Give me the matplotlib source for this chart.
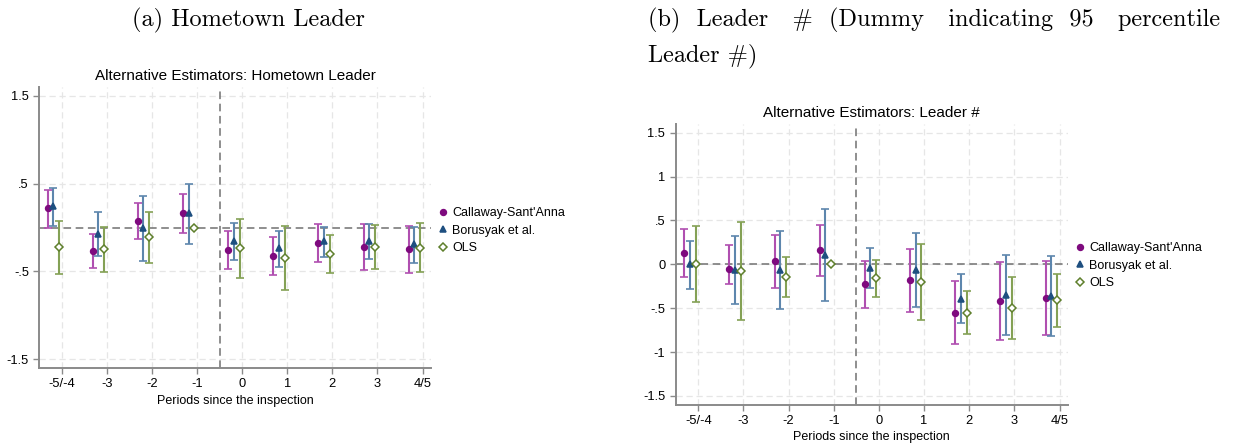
import matplotlib
matplotlib.use("Agg")
import matplotlib.pyplot as plt
import numpy as np

# ---------------- data ----------------
tick_labels = ["-5/-4", "-3", "-2", "-1", "0", "1", "2", "3", "4/5"]
series_names = ["Callaway-Sant'Anna", "Borusyak et al.", "OLS"]

# Panel (a): Hometown Leader
a_cs_est = [0.218, -0.267, 0.071, 0.162, -0.256, -0.327, -0.177, -0.222, -0.248]
a_cs_lo  = [0.000, -0.462, -0.135, -0.060, -0.470, -0.541, -0.391, -0.481, -0.519]
a_cs_hi  = [0.429, -0.071, 0.274, 0.387, -0.045, -0.113, 0.045, 0.038, 0.019]
a_bjs_est = [0.241, -0.071, -0.008, 0.162, -0.150, -0.237, -0.154, -0.154, -0.192]
a_bjs_lo  = [0.015, -0.323, -0.376, -0.184, -0.365, -0.451, -0.338, -0.357, -0.402]
a_bjs_hi  = [0.447, 0.177, 0.357, 0.496, 0.053, -0.038, 0.011, 0.038, 0.008]
a_ols_est = [-0.226, -0.248, -0.113, 0.000, -0.237, -0.350, -0.305, -0.218, -0.229]
a_ols_lo  = [-0.530, -0.508, -0.402, np.nan, -0.575, -0.710, -0.523, -0.470, -0.508]
a_ols_hi  = [0.075, 0.008, 0.180, np.nan, 0.098, 0.015, -0.086, 0.030, 0.056]

# Panel (b): Leader # (95 percentile dummy)
b_cs_est = [0.129, -0.053, 0.034, 0.159, -0.227, -0.178, -0.549, -0.418, -0.383]
b_cs_lo  = [-0.144, -0.223, -0.273, -0.136, -0.496, -0.538, -0.908, -0.868, -0.803]
b_cs_hi  = [0.399, 0.224, 0.337, 0.447, 0.034, 0.180, -0.193, 0.030, 0.036]
b_bjs_est = [0.000, -0.060, -0.064, 0.110, -0.038, -0.064, -0.391, -0.346, -0.357]
b_bjs_lo  = [-0.277, -0.447, -0.511, -0.413, -0.269, -0.489, -0.663, -0.802, -0.812]
b_bjs_hi  = [0.270, 0.322, 0.379, 0.629, 0.189, 0.362, -0.115, 0.104, 0.098]
b_ols_est = [0.006, -0.076, -0.148, 0.000, -0.159, -0.203, -0.549, -0.498, -0.410]
b_ols_lo  = [-0.424, -0.633, -0.371, np.nan, -0.371, -0.637, -0.795, -0.855, -0.709]
b_ols_hi  = [0.440, 0.481, 0.087, np.nan, 0.049, 0.231, -0.303, -0.142, -0.113]

a_yticks = [1.5, 0.5, -0.5, -1.5]
a_yticklabels = ["1.5", ".5", "-.5", "-1.5"]
b_yticks = [1.5, 1, 0.5, 0, -0.5, -1, -1.5]
b_yticklabels = ["1.5", "1", ".5", "0", "-.5", "-1", "-1.5"]

# ---------------- style ----------------
SANS = ["Liberation Sans", "DejaVu Sans"]
SERIF = ["cmr10", "DejaVu Serif"]
col_cs = "#7e0a7e"
col_cs_ci = "#b04fb0"
col_bjs = "#1e4f80"
col_bjs_ci = "#5d86ad"
col_ols = "#5e7f2c"
col_ols_ci = "#84a155"
offsets = [-0.31, -0.19, -0.06]
axis_gray = "#8a8a8a"

fig = plt.figure(figsize=(12.42, 4.45), dpi=100)


def draw_panel(ax, data, yticks, yticklabels, title, legend_anchor):
    x = np.arange(len(tick_labels))
    specs = [
        (data[0], col_cs, col_cs_ci, "o", col_cs, 4.2),
        (data[1], col_bjs, col_bjs_ci, "^", col_bjs, 4.2),
        (data[2], col_ols, col_ols_ci, "D", "white", 3.8),
    ]
    handles = []
    for i, ((est, lo, hi), c, cci, mk, fc, ms) in enumerate(specs):
        est = np.asarray(est, float)
        lo = np.asarray(lo, float)
        hi = np.asarray(hi, float)
        xs = x + offsets[i]
        ok = ~np.isnan(lo)
        ax.errorbar(xs[ok], est[ok], yerr=[est[ok] - lo[ok], hi[ok] - est[ok]],
                    fmt="none", ecolor=cci, elinewidth=1.5, capsize=2.8,
                    capthick=1.2, zorder=3)
        h, = ax.plot(xs, est, linestyle="none", marker=mk, markersize=ms,
                     markerfacecolor=fc, markeredgecolor=c, markeredgewidth=1.1,
                     zorder=4, label=series_names[i])
        handles.append(h)

    ax.axhline(0, color="#707070", linestyle=(0, (5, 3)), linewidth=1.1, zorder=2)
    ax.axvline(3.5, color="#707070", linestyle=(0, (5, 3)), linewidth=1.1, zorder=2)

    ax.set_xlim(-0.5, 8.18)
    ax.set_ylim(-1.6, 1.6)
    ax.set_xticks(x)
    ax.set_xticklabels(tick_labels, fontfamily=SANS, fontsize=9.3)
    ax.set_yticks(yticks)
    ax.set_yticklabels(yticklabels, fontfamily=SANS, fontsize=9.3)
    ax.grid(True, color="#e6e6e6", linestyle=(0, (5, 3)), linewidth=0.9, zorder=0)
    ax.set_axisbelow(True)
    for s in ["top", "right"]:
        ax.spines[s].set_visible(False)
    for s in ["left", "bottom"]:
        ax.spines[s].set_color(axis_gray)
        ax.spines[s].set_linewidth(1.4)
    ax.tick_params(axis="both", colors=axis_gray, labelcolor="black",
                   length=4, width=1.0, direction="out")
    ax.set_xlabel("Periods since the inspection", fontfamily=SANS, fontsize=9,
                  labelpad=3)
    ax.set_title(title, fontfamily=SANS, fontsize=11, pad=5)
    ax.legend(handles=handles, loc="center left", bbox_to_anchor=legend_anchor,
              frameon=False, prop={"family": SANS, "size": 9},
              handlelength=0.6, handletextpad=0.45, labelspacing=0.45,
              borderaxespad=0.0)
    return ax


ax1 = fig.add_axes([39.3 / 1242, (445 - 368) / 445, (430.7 - 39.3) / 1242, (368 - 87) / 445])
draw_panel(ax1,
           [(a_cs_est, a_cs_lo, a_cs_hi), (a_bjs_est, a_bjs_lo, a_bjs_hi),
            (a_ols_est, a_ols_lo, a_ols_hi)],
           a_yticks, a_yticklabels, "Alternative Estimators: Hometown Leader",
           (1.008, 0.488))

ax2 = fig.add_axes([675.7 / 1242, (445 - 404.7) / 445, (1067.7 - 675.7) / 1242, (404.7 - 124) / 445])
draw_panel(ax2,
           [(b_cs_est, b_cs_lo, b_cs_hi), (b_bjs_est, b_bjs_lo, b_bjs_hi),
            (b_ols_est, b_ols_lo, b_ols_hi)],
           b_yticks, b_yticklabels, "Alternative Estimators: Leader #",
           (1.008, 0.495))

fig.text(248 / 1242, 1 - 20 / 445, "(a) Hometown Leader", family=SERIF,
         fontsize=17.5, ha="center", va="center")
# first caption line is justified (stretched inter-word spaces) in the original
fig.text(648 / 1242, 1 - 20 / 445,
         "(b)  Leader   #  (Dummy   indicating  95   percentile",
         family=SERIF, fontsize=17.5, ha="left", va="center")
fig.text(648 / 1242, 1 - 56 / 445, "Leader #)", family=SERIF,
         fontsize=17.5, ha="left", va="center")

fig.savefig("out.png", dpi=100)
